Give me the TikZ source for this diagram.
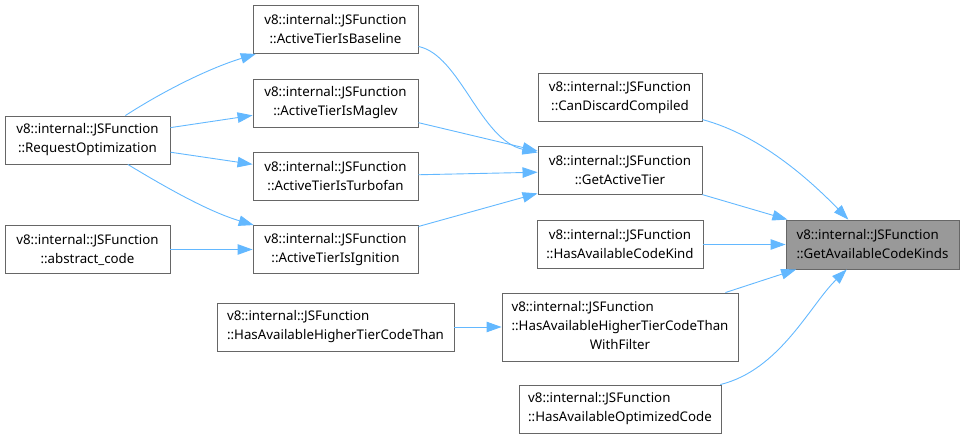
\documentclass[tikz,border=0pt]{standalone}
\usepackage{fontspec}
\setmainfont{Noto Sans}
\usetikzlibrary{arrows.meta}
\definecolor{edgeblue}{HTML}{63B8FF}
\definecolor{boxgray}{HTML}{666666}
\definecolor{focusgray}{HTML}{999999}
\begin{document}
\begin{tikzpicture}[x=1pt,y=-1pt,
  fn/.style={draw=boxgray, line width=0.9pt, rectangle, inner sep=0pt, align=center,
    minimum height=48pt, font=\fontsize{13.3}{19}\selectfont},
  fnl/.style={fn, align=left},
  focus/.style={fnl, fill=focusgray},
  edge/.style={draw=edgeblue, line width=0.9pt, -{Triangle[length=15pt,width=10.5pt]}}]
\useasboundingbox (0,0) rectangle (964,439);

\node[fn, minimum width=165pt] (RO) at (87.5,140) {v8::internal::JSFunction\\::RequestOptimization};
\node[fn, minimum width=165pt] (AC) at (87.5,249.5) {v8::internal::JSFunction\\::abstract\_code};
\node[fn, minimum width=165pt] (BL) at (335.5,29.5) {v8::internal::JSFunction\\::ActiveTierIsBaseline};
\node[fn, minimum width=165pt] (ML) at (335.5,103) {v8::internal::JSFunction\\::ActiveTierIsMaglev};
\node[fn, minimum width=165pt] (TF) at (335.5,176.5) {v8::internal::JSFunction\\::ActiveTierIsTurbofan};
\node[fn, minimum width=165pt] (IG) at (335.5,249.5) {v8::internal::JSFunction\\::ActiveTierIsIgnition};
\node[fnl, minimum width=237pt] (HT) at (335.5,327) {v8::internal::JSFunction\\::HasAvailableHigherTierCodeThan};
\node[fn, minimum width=164pt] (CD) at (620,97.5) {v8::internal::JSFunction\\::CanDiscardCompiled};
\node[fn, minimum width=164pt] (GAT) at (620,170.5) {v8::internal::JSFunction\\::GetActiveTier};
\node[fn, minimum width=166pt] (HK) at (620,244.5) {v8::internal::JSFunction\\::HasAvailableCodeKind};
\node[fn, minimum width=236pt, minimum height=68pt] (WF) at (620,327)
  {\begin{tabular}{@{}l@{}}v8::internal::JSFunction\\::HasAvailableHigherTierCodeThan\\\multicolumn{1}{@{}c@{}}{WithFilter}\end{tabular}};
\node[fnl, minimum width=202pt] (OC) at (620,409) {v8::internal::JSFunction\\::HasAvailableOptimizedCode};
\node[focus, minimum width=173pt, minimum height=49pt] (GK) at (872.5,244.5) {v8::internal::JSFunction\\::GetAvailableCodeKinds};

\draw[edge] (RO) .. controls (165,90) and (210,68) .. (BL);
\draw[edge] (RO) -- (ML);
\draw[edge] (RO) -- (TF);
\draw[edge] (RO) .. controls (170,190) and (210,212) .. (IG);
\draw[edge] (AC) -- (IG);
\draw[edge] (BL) .. controls (460,55) and (480,140) .. (GAT);
\draw[edge] (ML) -- (GAT);
\draw[edge] (TF) -- (GAT);
\draw[edge] (IG) -- (GAT);
\draw[edge] (HT) -- (WF);
\draw[edge] (CD) .. controls (760,135) and (810,180) .. (GK);
\draw[edge] (GAT) -- (GK);
\draw[edge] (HK) -- (GK);
\draw[edge] (WF) -- (GK);
\draw[edge] (OC) .. controls (780,370) and (810,305) .. (GK);
\end{tikzpicture}
\end{document}
